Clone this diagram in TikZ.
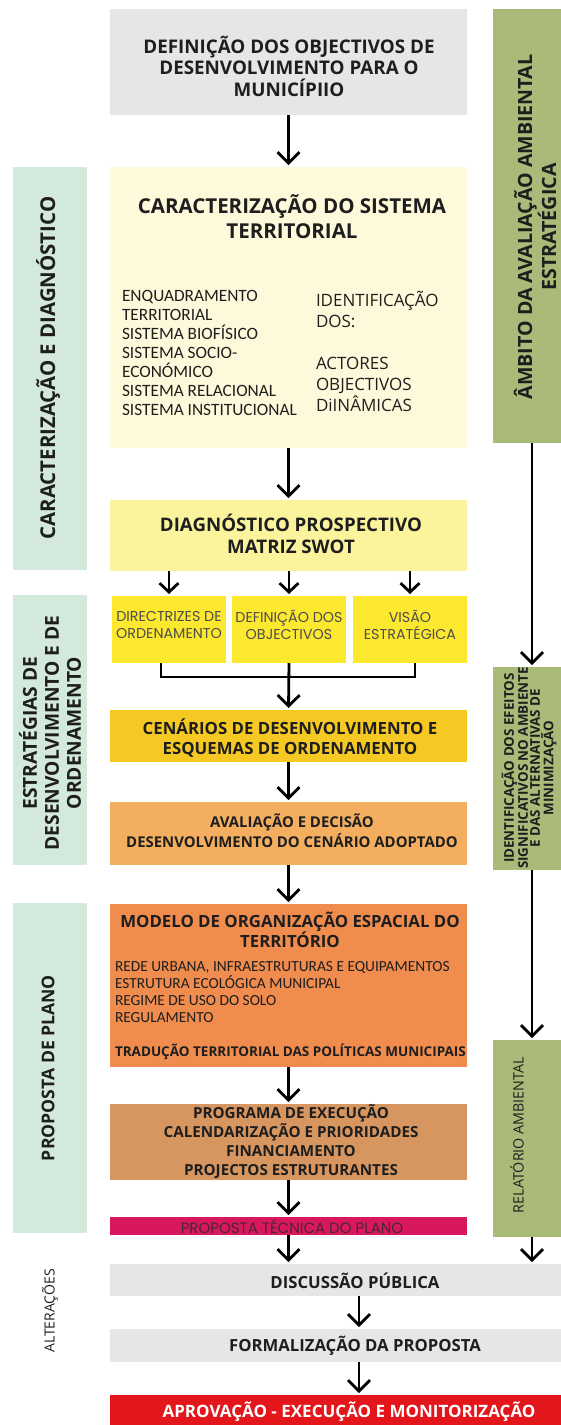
\documentclass[tikz,border=0pt]{standalone}
\usepackage{fontspec}
\setmainfont{Open Sans}
\newfontfamily\calib{Carlito}
\newfontfamily\geo{Poppins}
\usetikzlibrary{arrows.meta}
\definecolor{graybox}{HTML}{E6E6E6}
\definecolor{cream}{HTML}{FFF9DC}
\definecolor{mint}{HTML}{D3E9DC}
\definecolor{olive}{HTML}{AABB79}
\definecolor{diagc}{HTML}{FBF49C}
\definecolor{smally}{HTML}{FDE830}
\definecolor{cenc}{HTML}{F5C823}
\definecolor{avalc}{HTML}{F4AE5F}
\definecolor{modc}{HTML}{F08C4D}
\definecolor{progc}{HTML}{D79560}
\definecolor{pinkc}{HTML}{D9175E}
\definecolor{pinktxt}{HTML}{4B2633}
\definecolor{redbar}{HTML}{E2161B}
\definecolor{ink}{HTML}{1E1E1E}
\definecolor{geotxt}{HTML}{4D4D4D}
\newcommand\fsb[2]{\fontsize{#1}{#2}\selectfont\bfseries}
\newcommand\fsr[2]{\fontsize{#1}{#2}\selectfont}
\begin{document}
\begin{tikzpicture}[x=1pt,y=-1pt,
  blk/.style={rectangle, inner sep=0pt, outer sep=0pt, anchor=north west, draw=none},
  txt/.style={inner sep=0pt, outer sep=0pt, text=ink, align=center},
  arr/.style={line width=2.8pt, draw=black, -{Straight Barb[length=11pt,width=22pt]}, shorten >=2pt},
  sarr/.style={line width=2.8pt, draw=black, -{Straight Barb[length=9pt,width=19pt]}, shorten >=2pt},
  ln/.style={line width=2.8pt, draw=black}
]
\useasboundingbox (0,0) rectangle (561,1425);
\fill[white] (0,0) rectangle (561,1425);

% side bars
\node[blk, fill=mint, minimum width=74pt, minimum height=403pt] (L1) at (13,167) {};
\node[blk, fill=mint, minimum width=74pt, minimum height=270pt] (L2) at (13,595) {};
\node[blk, fill=mint, minimum width=74pt, minimum height=330pt] (L3) at (13,903) {};
\node[blk, fill=olive, minimum width=70pt, minimum height=434pt] (R1) at (493,9) {};
\node[blk, fill=olive, minimum width=70pt, minimum height=203pt] (R2) at (493,667) {};
\node[blk, fill=olive, minimum width=70pt, minimum height=197pt] (R3) at (493,1040) {};

% main boxes
\node[blk, fill=graybox, minimum width=357pt, minimum height=106pt] (top) at (110,9) {};
\node[blk, fill=cream, minimum width=357pt, minimum height=281pt] (cream) at (110,167) {};
\node[blk, fill=diagc, minimum width=357pt, minimum height=71pt] (diag) at (110,500) {};
\node[blk, fill=smally, minimum width=114pt, minimum height=67pt] (sb1) at (112,596) {};
\node[blk, fill=smally, minimum width=114pt, minimum height=67pt] (sb2) at (232,596) {};
\node[blk, fill=smally, minimum width=114pt, minimum height=67pt] (sb3) at (353,596) {};
\node[blk, fill=cenc, minimum width=357pt, minimum height=52pt] (cen) at (110,710) {};
\node[blk, fill=avalc, minimum width=357pt, minimum height=63pt] (aval) at (110,802) {};
\node[blk, fill=modc, minimum width=357pt, minimum height=163pt] (mod) at (110,904) {};
\node[blk, fill=progc, minimum width=357pt, minimum height=76pt] (prog) at (110,1104) {};
\node[blk, fill=pinkc, minimum width=357pt, minimum height=18pt] (tec) at (110,1217) {};
\node[blk, fill=graybox, minimum width=451pt, minimum height=32pt] (disc) at (110,1264) {};
\node[blk, fill=graybox, minimum width=451pt, minimum height=33pt] (form) at (110,1329) {};
\node[blk, fill=redbar, minimum width=451pt, minimum height=35pt] (apr) at (110,1395) {};

% texts
\node[txt, font=\fsb{18.8}{21.5}] (ttop) at (289,66) {DEFINIÇÃO DOS OBJECTIVOS DE\\DESENVOLVIMENTO PARA O\\MUNICÍPIIO};
\node[txt, font=\fsb{20.5}{25}] (tcream) at (292,217) {CARACTERIZAÇÃO DO SISTEMA\\TERRITORIAL};
\node[txt, align=left, anchor=west, font=\calib\fsr{17.3}{19}] (tleft) at (122,353) {ENQUADRAMENTO\\TERRITORIAL\\SISTEMA BIOFÍSICO\\SISTEMA SOCIO-\\ECONÓMICO\\SISTEMA RELACIONAL\\SISTEMA INSTITUCIONAL};
\node[txt, align=left, anchor=west, font=\fsr{17}{21}] (tright) at (316,351) {IDENTIFICAÇÃO\\DOS:\\[21pt]ACTORES\\OBJECTIVOS\\DiINÂMICAS};
\node[txt, font=\fsb{18.7}{22}] (tdiag) at (291,534) {DIAGNÓSTICO PROSPECTIVO\\MATRIZ SWOT};
\node[txt, text=geotxt, font=\geo\fsr{14.3}{17}] (tsb1) at (169,625) {DIRECTRIZES DE\\ORDENAMENTO};
\node[txt, text=geotxt, font=\geo\fsr{14.3}{17}] (tsb2) at (289,625) {DEFINIÇÃO DOS\\OBJECTIVOS};
\node[txt, text=geotxt, font=\geo\fsr{14.3}{17}] (tsb3) at (410,625) {VISÃO\\ESTRATÉGICA};
\node[txt, font=\fsb{16.8}{20}] (tcen) at (290,738) {CENÁRIOS DE DESENVOLVIMENTO E\\ESQUEMAS DE ORDENAMENTO};
\node[txt, font=\fsb{14.9}{20}] (taval) at (292,831) {AVALIAÇÃO E DECISÃO\\DESENVOLVIMENTO DO CENÁRIO ADOPTADO};
\node[txt, font=\fsb{16.8}{20}] (tmod) at (290,930) {MODELO DE ORGANIZAÇÃO ESPACIAL DO\\TERRITÓRIO};
\node[txt, align=left, anchor=west, font=\calib\fsr{15.4}{17}] (tbul) at (115,992) {REDE URBANA, INFRAESTRUTURAS E EQUIPAMENTOS\\ESTRUTURA ECOLÓGICA MUNICIPAL\\REGIME DE USO DO SOLO\\REGULAMENTO};
\node[txt, anchor=west, font=\fsb{13.5}{16}] (ttrad) at (115,1052) {TRADUÇÃO TERRITORIAL DAS POLÍTICAS MUNICIPAIS};
\node[txt, font=\fsb{15.2}{19}] (tprog) at (291,1142) {PROGRAMA DE EXECUÇÃO\\CALENDARIZAÇÃO E PRIORIDADES\\FINANCIAMENTO\\PROJECTOS ESTRUTURANTES};
\node[txt, text=pinktxt, font=\geo\fsr{15}{16}] (ttec) at (292,1226.5) {PROPOSTA TÉCNICA DO PLANO};
\node[txt, font=\fsb{16.7}{18}] (tdisc) at (355,1280.5) {DISCUSSÃO PÚBLICA};
\node[txt, font=\fsb{16.7}{18}] (tform) at (355,1345.5) {FORMALIZAÇÃO DA PROPOSTA};
\node[txt, text=white, font=\fsb{17}{18}] (tapr) at (349,1411.5) {APROVAÇÃO - EXECUÇÃO E MONITORIZAÇÃO};

% side texts
\node[txt, rotate=90, font=\fsb{20.4}{22}] (tL1) at (48,368) {CARACTERIZAÇÃO E DIAGNÓSTICO};
\node[txt, rotate=90, font=\fsb{19.2}{22}] (tL2) at (50,733) {ESTRATÉGIAS DE\\DESENVOLVIMENTO E DE\\ORDENAMENTO};
\node[txt, rotate=90, font=\fsb{17.6}{22}] (tL3) at (48,1068) {PROPOSTA DE PLANO};
\node[txt, rotate=90, font=\fsr{14}{16}] (talt) at (50,1311) {ALTERAÇÕES};
\node[txt, rotate=90, font=\fsb{19.6}{21}] (tR1) at (535,227) {ÂMBITO DA AVALIAÇÃO AMBIENTAL\\ESTRATÉGICA};
\node[txt, rotate=90, font=\fsb{13.4}{12}] (tR2) at (529,768) {IDENTIFICAÇÃO DOS EFEITOS\\SIGNIFICATIVOS NO AMBIENTE\\E DAS ALTERNATIVAS DE\\MINIMIZAÇÃO};
\node[txt, rotate=90, font=\fsr{14.3}{15}] (tR3) at (517,1135) {RELATÓRIO AMBIENTAL};

% connectors
\draw[arr] (top.south) -- (cream.north);
\draw[arr] (cream.south) -- (diag.north);
\draw[sarr] (diag.south -| sb1.south) -- (sb1.north);
\draw[sarr] (diag.south -| sb2.south) -- (sb2.north);
\draw[sarr] (diag.south -| sb3.south) -- (sb3.north);
\coordinate (jn) at (289,677);
\draw[ln] ([xshift=-8pt]sb1.south) |- (jn) -| ([xshift=5pt]sb3.south);
\draw[arr] (sb2.south) -- (cen.north);
\draw[arr] (cen.south) -- (aval.north);
\draw[arr] (aval.south) -- (mod.north);
\draw[arr] (mod.south) -- (prog.north);
\draw[arr] (prog.south) -- (tec.north);
\draw[arr] (tec.south) -- (disc.north -| tec.south);
\coordinate (bx) at (359,0);
\draw[arr] (disc.south -| bx) -- (form.north -| bx);
\draw[arr] (form.south -| bx) -- (apr.north -| bx);
\coordinate (rx) at (532,0);
\draw[arr] (R1.south -| rx) -- (R2.north -| rx);
\draw[arr] (R2.south -| rx) -- (R3.north -| rx);
\draw[arr] (R3.south -| rx) -- (disc.north -| rx);
\end{tikzpicture}
\end{document}
